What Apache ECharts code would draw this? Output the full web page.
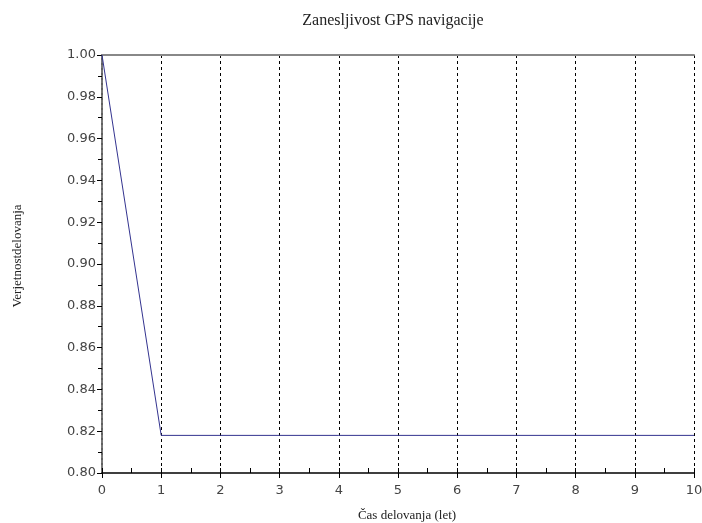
<!DOCTYPE html>
<html><head><meta charset="utf-8">
<script src="https://cdn.jsdelivr.net/npm/echarts@6/dist/echarts.min.js"></script>
<style>html,body{margin:0;padding:0;background:#fff}#c{width:702px;height:523px}</style>
</head><body><div id="c"></div>
<script>
const titleText = 'Zanesljivost GPS navigacije';
const xName = 'Čas delovanja (let)';
const yName = 'Verjetnostdelovanja';
const years = [0, 1, 2, 3, 4, 5, 6, 7, 8, 9, 10];
const reliability = [1.0, 0.818, 0.818, 0.818, 0.818, 0.818, 0.818, 0.818, 0.818, 0.818, 0.818];

const chart = echarts.init(document.getElementById('c'));
const labelFont = {fontFamily: 'DejaVu Sans', fontSize: 13, color: '#444'};
chart.setOption({
  animation: false,
  backgroundColor: '#fff',
  title: {text: titleText, left: 388, top: 8, textAlign: 'center',
    textStyle: {fontFamily: 'Liberation Serif', fontWeight: 'normal', fontSize: 16, color: '#222'}},
  grid: {left: 102, right: 8, top: 55, bottom: 50, containLabel: false, outerBoundsMode: 'none'},
  xAxis: [
    {type: 'value', min: 0, max: 10, interval: 1, position: 'bottom',
     name: xName, nameLocation: 'middle', nameGap: 36,
     nameTextStyle: {fontFamily: 'Liberation Serif', fontSize: 13, color: '#222', padding: [0, 0, 0, 18]},
     axisLine: {lineStyle: {color: '#000', width: 1.5}},
     axisTick: {show: true, inside: false, length: 5, lineStyle: {color: '#000'}},
     axisLabel: Object.assign({margin: 11}, labelFont),
     splitLine: {show: true, lineStyle: {color: '#000', type: [3, 3], width: 1}}},
    {type: 'value', min: 0, max: 10, interval: 0.5, position: 'bottom', gridIndex: 0,
     axisLine: {show: false},
     axisTick: {show: true, inside: true, length: 5, lineStyle: {color: '#000'}},
     axisLabel: {show: false}, splitLine: {show: false}},
    {type: 'value', min: 0, max: 10, position: 'top',
     axisLine: {show: true, lineStyle: {color: '#888', width: 2}},
     axisTick: {show: false}, axisLabel: {show: false}, splitLine: {show: false}}
  ],
  yAxis: [
    {type: 'value', min: 0.80, max: 1.00, interval: 0.02,
    name: yName, nameLocation: 'middle', nameGap: 78, nameRotate: 90,
    nameTextStyle: {fontFamily: 'Liberation Serif', fontSize: 13, color: '#222', padding: [0, 0, 0, 16]},
    axisLine: {show: true, lineStyle: {color: '#222', width: 2}},
    axisTick: {show: true, inside: false, length: 5, lineStyle: {color: '#000'}},
    minorTick: {show: true, splitNumber: 2, length: 4, lineStyle: {color: '#000'}},
    axisLabel: Object.assign({margin: 6, formatter: v => v.toFixed(2)}, labelFont),
    splitLine: {show: false}},
    {type: 'value', min: 0.80, max: 1.00, position: 'right',
     axisLine: {show: true, lineStyle: {color: '#777', width: 2, type: [3, 2]}},
     axisTick: {show: false}, axisLabel: {show: false}, splitLine: {show: false}}
  ],
  series: [{type: 'line', xAxisIndex: 0, yAxisIndex: 0,
    data: years.map((x, i) => [x, reliability[i]]),
    showSymbol: false, lineStyle: {color: '#33338f', width: 1}}]
});
</script></body></html>
